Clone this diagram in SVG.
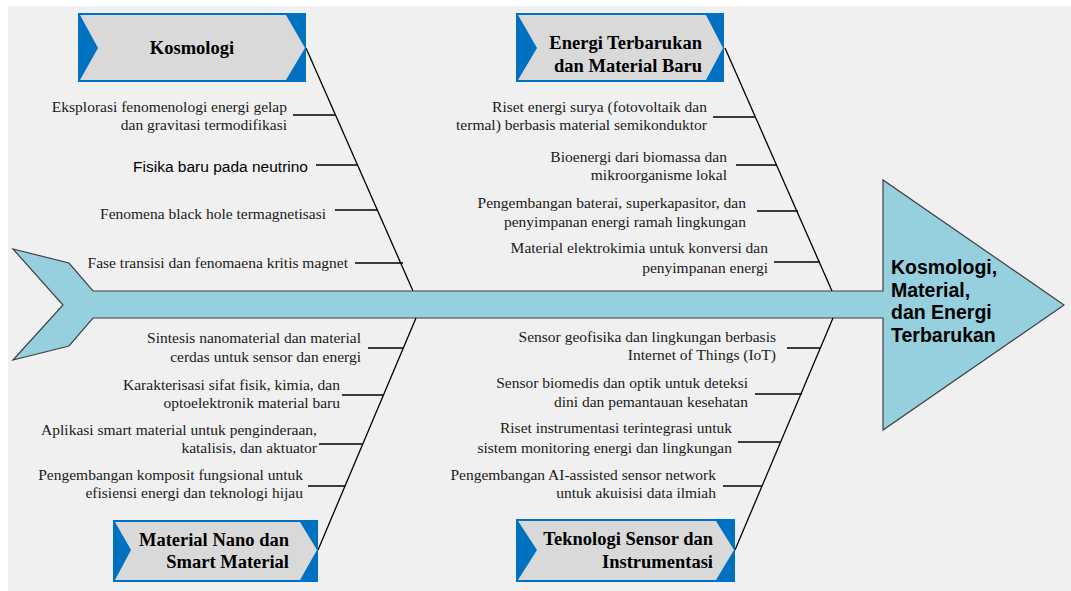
<svg xmlns="http://www.w3.org/2000/svg" width="1071" height="591" viewBox="0 0 1071 591">
<defs>
<style>
.bg{fill:#f0f0f0}
.boxbg{fill:#0070c0}
.chev{fill:#d9d9d9}
.title{font-family:"Liberation Serif","Times New Roman",serif;font-weight:bold;font-size:18.5px;fill:#000}
.lbl{font-family:"Liberation Serif","Times New Roman",serif;font-size:15.5px;fill:#1a1a1a;text-anchor:end}
.lbls{font-family:"Liberation Sans",Arial,sans-serif;font-size:15.5px;fill:#000;text-anchor:end}
.head{font-family:"Liberation Sans",Arial,sans-serif;font-weight:bold;font-size:19.5px;fill:#000}
.bone{stroke:#000;stroke-width:1.3;fill:none}
.tick{stroke:#000;stroke-width:1.3;fill:none}
.fish{fill:#96cfdd;stroke:#404040;stroke-width:1.2}
</style>
</defs>
<rect class="bg" x="8" y="6" width="1063" height="585"/>
<g id="fish">
<polygon class="fish" points="13,249 69,263 93,291 883,291 883,180 1064,305 883,430 883,318 93,318 69,346 13,360 63,305"/>
<text class="head" x="891" y="274">Kosmologi,</text>
<text class="head" x="891" y="296.5">Material,</text>
<text class="head" x="891" y="319">dan Energi</text>
<text class="head" x="891" y="341.5">Terbarukan</text>
</g>
<g id="connectors">
<line class="bone" x1="306" y1="48" x2="413" y2="291"/>
<line class="bone" x1="725" y1="48" x2="832" y2="291"/>
<line class="bone" x1="416" y1="318" x2="318" y2="550"/>
<line class="bone" x1="833" y1="318" x2="735" y2="550"/>
<line class="tick" x1="293" y1="115" x2="335" y2="115"/>
<line class="tick" x1="316" y1="165" x2="358" y2="165"/>
<line class="tick" x1="335" y1="210" x2="377" y2="210"/>
<line class="tick" x1="355" y1="263" x2="403" y2="263"/>
<line class="tick" x1="713" y1="117" x2="755" y2="117"/>
<line class="tick" x1="736" y1="165" x2="777" y2="165"/>
<line class="tick" x1="757" y1="211" x2="798" y2="211"/>
<line class="tick" x1="774" y1="262" x2="820" y2="262"/>
<line class="tick" x1="368" y1="348" x2="403" y2="348"/>
<line class="tick" x1="342" y1="395" x2="383" y2="395"/>
<line class="tick" x1="319" y1="444" x2="363" y2="444"/>
<line class="tick" x1="308" y1="486" x2="345" y2="486"/>
<line class="tick" x1="787" y1="348" x2="820" y2="348"/>
<line class="tick" x1="755" y1="394" x2="802" y2="394"/>
<line class="tick" x1="738" y1="442" x2="780" y2="442"/>
<line class="tick" x1="723" y1="486" x2="762" y2="486"/>
</g>
<g id="kosmologi">
<rect class="boxbg" x="78" y="13" width="228" height="69"/>
<polygon class="chev" points="80,15 286,15 305,48 286,80 80,80 98,48"/>
<text class="title" x="192" y="54" text-anchor="middle">Kosmologi</text>
</g>
<g id="energi">
<rect class="boxbg" x="516" y="13" width="208" height="69"/>
<polygon class="chev" points="518,15 706,15 723,48 706,80 518,80 537,48"/>
<text class="title" x="702" y="48.5" text-anchor="end">Energi Terbarukan</text>
<text class="title" x="702" y="72" text-anchor="end">dan Material Baru</text>
</g>
<g id="material">
<rect class="boxbg" x="113" y="520" width="205" height="62"/>
<polygon class="chev" points="115,522 300,522 317,550 300,580 115,580 131,550"/>
<text class="title" x="289" y="546" text-anchor="end">Material Nano dan</text>
<text class="title" x="289" y="568" text-anchor="end">Smart Material</text>
</g>
<g id="sensor">
<rect class="boxbg" x="516" y="519" width="219" height="63"/>
<polygon class="chev" points="518,521 716,521 734,550 716,580 518,580 537,550"/>
<text class="title" x="713" y="545" text-anchor="end">Teknologi Sensor dan</text>
<text class="title" x="713" y="568" text-anchor="end">Instrumentasi</text>
</g>
<g id="kosmologi-causes">
<text class="lbl" x="287" y="112">Eksplorasi fenomenologi energi gelap</text>
<text class="lbl" x="287" y="130">dan gravitasi termodifikasi</text>
<text class="lbls" x="308" y="171.5">Fisika baru pada neutrino</text>
<text class="lbl" x="326" y="219">Fenomena black hole termagnetisasi</text>
<text class="lbl" x="348" y="268">Fase transisi dan fenomaena kritis magnet</text>
</g>
<g id="energi-causes">
<text class="lbl" x="707" y="112">Riset energi surya (fotovoltaik dan</text>
<text class="lbl" x="707" y="130">termal) berbasis material semikonduktor</text>
<text class="lbl" x="727" y="162">Bioenergi dari biomassa dan</text>
<text class="lbl" x="727" y="180">mikroorganisme lokal</text>
<text class="lbl" x="746" y="208">Pengembangan baterai, superkapasitor, dan</text>
<text class="lbl" x="746" y="227">penyimpanan energi ramah lingkungan</text>
<text class="lbl" x="768" y="253">Material elektrokimia untuk konversi dan</text>
<text class="lbl" x="768" y="273">penyimpanan energi</text>
</g>
<g id="material-causes">
<text class="lbl" x="361" y="343">Sintesis nanomaterial dan material</text>
<text class="lbl" x="361" y="362">cerdas untuk sensor dan energi</text>
<text class="lbl" x="340" y="390">Karakterisasi sifat fisik, kimia, dan</text>
<text class="lbl" x="340" y="408">optoelektronik material baru</text>
<text class="lbl" x="317" y="435">Aplikasi smart material untuk penginderaan,</text>
<text class="lbl" x="317" y="453">katalisis, dan aktuator</text>
<text class="lbl" x="303" y="480">Pengembangan komposit fungsional untuk</text>
<text class="lbl" x="303" y="498">efisiensi energi dan teknologi hijau</text>
</g>
<g id="sensor-causes">
<text class="lbl" x="776" y="342">Sensor geofisika dan lingkungan berbasis</text>
<text class="lbl" x="776" y="360">Internet of Things (IoT)</text>
<text class="lbl" x="748" y="388">Sensor biomedis dan optik untuk deteksi</text>
<text class="lbl" x="748" y="407">dini dan pemantauan kesehatan</text>
<text class="lbl" x="732" y="433">Riset instrumentasi terintegrasi untuk</text>
<text class="lbl" x="732" y="453">sistem monitoring energi dan lingkungan</text>
<text class="lbl" x="716" y="480">Pengembangan AI-assisted sensor network</text>
<text class="lbl" x="716" y="498">untuk akuisisi data ilmiah</text>
</g>
</svg>
